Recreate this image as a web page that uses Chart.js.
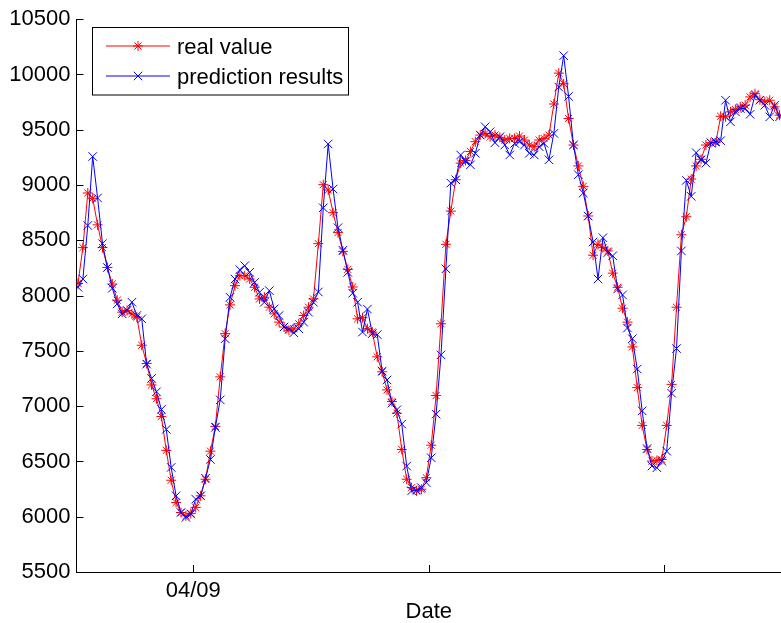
<!DOCTYPE html>
<html>
<head>
<meta charset="utf-8">
<script src="https://cdn.jsdelivr.net/npm/chart.js@4.4.0/dist/chart.umd.min.js"></script>
<style>
  html, body { margin: 0; padding: 0; background: #fff; }
  canvas { display: block; }
</style>
</head>
<body>
<canvas id="myChart" width="781" height="623"></canvas>
<script>
// half-hourly load, 3 days
const realValue = [
  8110, 8434, 8928, 8880, 8640, 8434, 8254, 8105, 7958, 7850, 7866, 7835,
  7806, 7551, 7386, 7192, 7067, 6907, 6600, 6330, 6128, 6038, 6008, 6030,
  6084, 6189, 6339, 6593, 6817, 7265, 7656, 7916, 8090, 8180, 8180, 8150,
  8075, 7970, 7985, 7895, 7835, 7760, 7716, 7686, 7700, 7745, 7820, 7895,
  7970, 8470, 9003, 8955, 8750, 8570, 8400, 8237, 8078, 7790, 7800, 7700,
  7670, 7446, 7311, 7147, 7042, 6937, 6608, 6339, 6263, 6234, 6249, 6353,
  6647, 7096, 7745, 8464, 8764, 9048, 9198, 9222, 9303, 9392, 9452, 9467,
  9437, 9452, 9431, 9407, 9422, 9422, 9443, 9407, 9362, 9347, 9407, 9422,
  9452, 9733, 10012, 9916, 9602, 9362, 9173, 8988, 8720, 8365, 8464, 8434,
  8404, 8203, 8075, 7886, 7760, 7536, 7168, 6826, 6608, 6503, 6509, 6518,
  6826, 7197, 7895, 8550, 8713, 9054, 9173, 9233, 9362, 9383, 9383, 9622,
  9617, 9662, 9683, 9707, 9722, 9797, 9826, 9772, 9752, 9767, 9707, 9632
];
const predictionResults = [
  8075, 8150, 8634, 9258, 8883, 8470, 8254, 8066, 7925, 7835, 7866, 7940,
  7820, 7790, 7380, 7251, 7130, 6970, 6790, 6446, 6189, 6038, 5994, 6024,
  6159, 6189, 6348, 6518, 6808, 7057, 7610, 7985, 8150, 8234, 8270, 8210,
  8120, 8030, 7940, 8045, 7880, 7820, 7716, 7700, 7664, 7700, 7760, 7850,
  7940, 8033, 8794, 9371, 8964, 8614, 8410, 8210, 8022, 7940, 7670, 7878,
  7656, 7647, 7317, 7237, 7027, 6967, 6838, 6458, 6234, 6240, 6263, 6308,
  6533, 6928, 7464, 8242, 9018, 9048, 9272, 9212, 9183, 9287, 9452, 9527,
  9482, 9383, 9437, 9362, 9272, 9377, 9392, 9362, 9287, 9272, 9347, 9377,
  9228, 9467, 9886, 10170, 9802, 9362, 9093, 8928, 8719, 8485, 8150, 8524,
  8389, 8360, 8060, 8006, 7707, 7610, 7336, 6958, 6617, 6458, 6443, 6503,
  6593, 7117, 7521, 8404, 9042, 8898, 9293, 9228, 9198, 9383, 9392, 9401,
  9767, 9572, 9662, 9692, 9692, 9640, 9811, 9767, 9722, 9617, 9722, 9617
];
const dateTickPos = [23.5, 71.5, 119.5];
const dateTickLabels = ['04/09', '', ''];
const yMin = 5500, yMax = 10500, yStep = 500;
const seriesNames = ['real value', 'prediction results'];

const FONT = '"Liberation Sans", Arial, Helvetica, sans-serif';
Chart.defaults.font.family = FONT;
Chart.defaults.font.size = 22;
Chart.defaults.color = '#000';

// MATLAB style ticks pointing into the axes
const inwardTicks = {
  id: 'inwardTicks',
  afterDraw(chart) {
    const ctx = chart.ctx;
    const a = chart.chartArea;
    const xs = chart.scales.x, ys = chart.scales.y;
    ctx.save();
    ctx.strokeStyle = '#000';
    ctx.lineWidth = 1;
    ctx.beginPath();
    ys.ticks.forEach(t => {
      const y = Math.round(ys.getPixelForValue(t.value)) + 0.5;
      ctx.moveTo(a.left, y);
      ctx.lineTo(a.left + 7, y);
    });
    xs.ticks.forEach(t => {
      const x = Math.round(xs.getPixelForValue(t.value)) + 0.5;
      ctx.moveTo(x, a.bottom);
      ctx.lineTo(x, a.bottom - 7);
    });
    ctx.stroke();
    ctx.restore();
  }
};

// boxed legend with line + marker samples
const boxLegend = {
  id: 'boxLegend',
  afterDraw(chart) {
    const ctx = chart.ctx;
    const x0 = 92.5, y0 = 27.5, w = 256, h = 67.5;
    ctx.save();
    ctx.fillStyle = '#fff';
    ctx.fillRect(x0, y0, w, h);
    ctx.strokeStyle = '#000';
    ctx.lineWidth = 1;
    ctx.strokeRect(x0, y0, w, h);
    const rows = [46, 76];
    chart.data.datasets.forEach((ds, k) => {
      const y = rows[k];
      ctx.strokeStyle = ds.borderColor;
      ctx.lineWidth = 1;
      ctx.beginPath();
      ctx.moveTo(106, y);
      ctx.lineTo(170, y);
      ctx.stroke();
      Chart.helpers.drawPoint(ctx, {
        pointStyle: ds.pointStyle, radius: ds.pointRadius,
        borderWidth: 1, rotation: 0
      }, 138, y);
      ctx.fillStyle = '#000';
      ctx.font = '22px ' + FONT;
      ctx.textBaseline = 'middle';
      ctx.textAlign = 'left';
      ctx.fillText(ds.label, 177, y + 1.5);
    });
    ctx.restore();
  }
};

new Chart(document.getElementById('myChart'), {
  type: 'line',
  data: {
    datasets: [
      {
        label: seriesNames[0],
        data: realValue.map((v, i) => ({ x: i, y: v })),
        borderColor: '#ff0000',
        backgroundColor: '#ff0000',
        borderWidth: 1,
        pointStyle: 'star',
        pointRadius: 5,
        pointBorderWidth: 1,
        pointBorderColor: '#ff0000',
        tension: 0,
        order: 1
      },
      {
        label: seriesNames[1],
        data: predictionResults.map((v, i) => ({ x: i, y: v })),
        borderColor: '#0000ff',
        backgroundColor: '#0000ff',
        borderWidth: 1,
        pointStyle: 'crossRot',
        pointRadius: 6,
        pointBorderWidth: 1,
        pointBorderColor: '#0000ff',
        tension: 0,
        order: 0
      }
    ]
  },
  options: {
    responsive: false,
    animation: false,
    devicePixelRatio: 1,
    layout: { autoPadding: false, padding: { top: 15, right: 0, left: 0, bottom: 0 } },
    plugins: { legend: { display: false }, tooltip: { enabled: false } },
    scales: {
      x: {
        type: 'linear',
        min: -0.3,
        max: 143.3,
        grid: { display: false, drawTicks: false },
        border: { display: true, color: '#000', width: 1 },
        afterBuildTicks: s => { s.ticks = dateTickPos.map(v => ({ value: v })); },
        afterFit: s => { s.height = 51; },
        ticks: {
          padding: 6,
          maxRotation: 0,
          autoSkip: false,
          callback: v => dateTickLabels[dateTickPos.indexOf(v)] || ''
        },
        title: {
          display: true,
          text: 'Date',
          font: { size: 22, lineHeight: 1 },
          padding: { top: 0, bottom: 0 }
        }
      },
      y: {
        min: yMin,
        max: yMax,
        grid: { display: false, drawTicks: false },
        border: { display: true, color: '#000', width: 1 },
        afterFit: s => { s.width = 76.5; },
        ticks: { stepSize: yStep, padding: 6, callback: v => String(v) }
      }
    }
  },
  plugins: [inwardTicks, boxLegend]
});
</script>
</body>
</html>
